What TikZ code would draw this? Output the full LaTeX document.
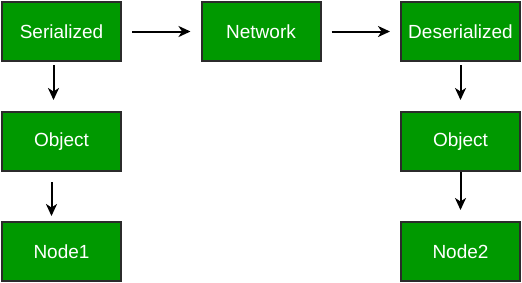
\documentclass[tikz,border=0pt]{standalone}
\usepackage{fontspec}
\setmainfont{Liberation Sans}
\usetikzlibrary{arrows.meta,positioning}
\definecolor{serblock}{HTML}{009900}
\definecolor{serline}{HTML}{2B2B2B}
\tikzset{
  block/.style={draw=serline,fill=serblock,line width=2pt,minimum width=119pt,minimum height=59pt,inner sep=0pt,text=white,font=\fontsize{19}{21}\selectfont},
  ar/.style={-{Stealth[length=12pt,width=11pt,inset=3.5pt]},draw=black,line width=2pt},
}
\begin{document}
\begin{tikzpicture}[x=1pt,y=1pt]
  \useasboundingbox (0,0) rectangle (522,-282);
  % top row
  \node[block] (ser) at (61.5,-31.5) {Serialized};
  \node[block] (net) at (261,-31.5) {Network};
  \node[block] (deser) at (460.5,-31.5) {Deserialized};
  % middle and bottom rows
  \node[block] (objA) at (61.5,-141.5) {Object};
  \node[block] (objB) at (460.5,-141.5) {Object};
  \node[block] (nodeA) at (61.5,-251.5) {Node1};
  \node[block] (nodeB) at (460.5,-251.5) {Node2};
  % connectors
  \draw[ar,shorten <=10pt,shorten >=10pt] (ser) -- (net);
  \draw[ar,shorten <=10pt,shorten >=10pt] (net) -- (deser);
  \draw[ar,shorten <=3pt,shorten >=11pt] ([xshift=-8pt]ser.south) -- ([xshift=-8pt]objA.north);
  \draw[ar,shorten <=10pt,shorten >=5pt] ([xshift=-10pt]objA.south) -- ([xshift=-10pt]nodeA.north);
  \draw[ar,shorten <=3pt,shorten >=11pt] (deser) -- (objB);
  \draw[ar,shorten <=0pt,shorten >=11pt] (objB) -- (nodeB);
\end{tikzpicture}
\end{document}
